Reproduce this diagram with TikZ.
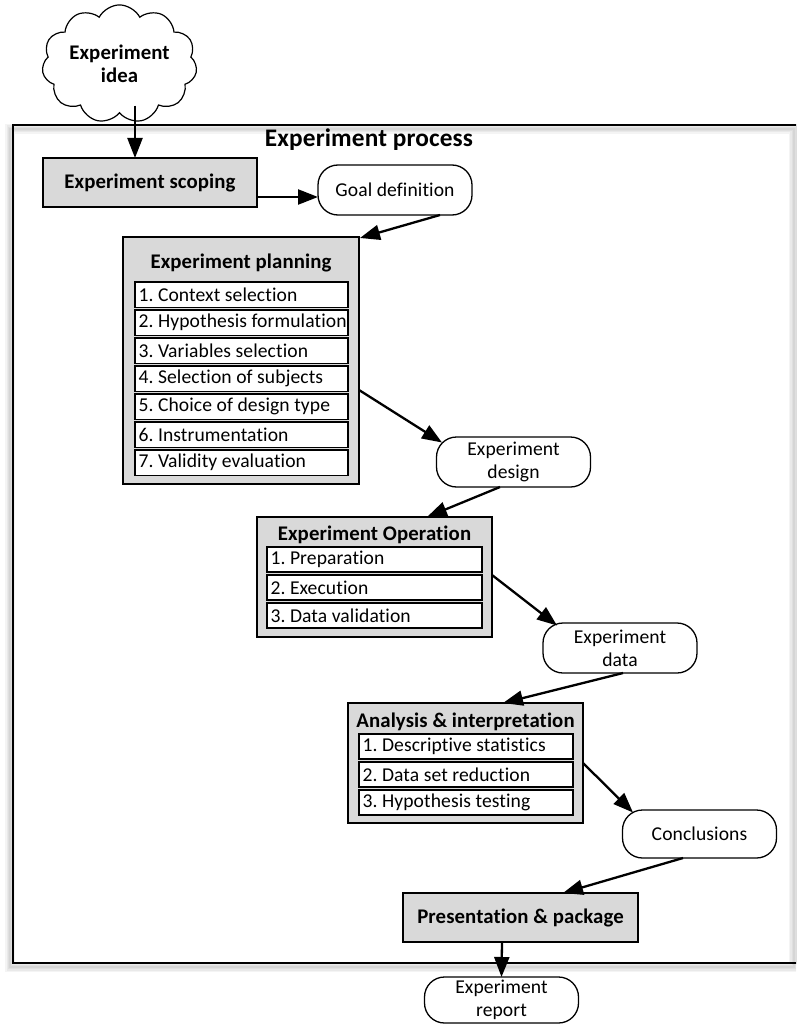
\documentclass[tikz,border=0pt]{standalone}
\usepackage{fontspec}
\setmainfont{Carlito}[Ligatures={NoCommon,NoContextual}, LetterSpace=0.5]
\usetikzlibrary{shapes.symbols,arrows.meta,calc}
\definecolor{boxgray}{RGB}{217,217,217}
% left-aligned text of fixed width inside a list entry
\newcommand{\entrytext}[2]{\makebox[#1][l]{#2}}

\begin{document}
\frenchspacing
\begin{tikzpicture}[x=1pt,y=-1pt,
  every node/.style={inner sep=0pt, outer sep=0pt},
  txt/.style={font=\fontsize{19.6}{23}\selectfont},
  btxt/.style={font=\fontsize{20.8}{23}\selectfont\bfseries},
  ttxt/.style={font=\fontsize{25.3}{28}\selectfont\bfseries},
  graybox/.style={draw, fill=boxgray, line width=1.3pt, anchor=north west},
  itembox/.style={draw, fill=white, line width=1.2pt, anchor=north west,
    inner xsep=3.5pt, minimum height=25.5pt, txt},
  term/.style={draw, fill=white, line width=1.3pt, rounded corners=20pt,
    minimum width=154pt, minimum height=50pt, align=center, txt},
  flow/.style={line width=2.3pt, -{Triangle[length=20pt,width=15pt]}},
  shadowline/.style={line width=#1, black, opacity=0.045}
]
\clip (0,0) rectangle (796,1024);

% soft shadow and outline of the process frame
\foreach \w in {10pt,7pt,4.5pt,2.5pt}
  \draw[shadowline=\w] (10,129) rectangle (793.8,967);
\draw[line width=1.3pt] (13,125) rectangle (796.8,963);
\node[ttxt] (ptitle) at (369,140) {Experiment process};

% start: the idea cloud
\node[cloud, draw, fill=white, cloud puffs=11, cloud puff arc=125, aspect=1.45,
  minimum width=155pt, minimum height=106pt, line width=1.2pt,
  btxt, align=center] (idea) at (119.5,64) {Experiment\\idea};

% scoping
\node[graybox, minimum width=214pt, minimum height=49pt, btxt] (scope) at (43,158) {Experiment scoping};
\node[term] (goal) at (395,190) {Goal definition};

% planning
\node[graybox, minimum width=236pt, minimum height=247pt] (plan) at (123,237) {};
\node[btxt] (plantitle) at (241,263) {Experiment planning};
\node[itembox] (p1) at (135,282) {\entrytext{206pt}{1. Context selection}};
\node[itembox] (p2) at (135,310) {\entrytext{206pt}{2. Hypothesis formulation}};
\node[itembox] (p3) at (135,338) {\entrytext{206pt}{3. Variables selection}};
\node[itembox] (p4) at (135,366) {\entrytext{206pt}{4. Selection of subjects}};
\node[itembox] (p5) at (135,394) {\entrytext{206pt}{5. Choice of design type}};
\node[itembox] (p6) at (135,422) {\entrytext{206pt}{6. Instrumentation}};
\node[itembox] (p7) at (135,450) {\entrytext{206pt}{7. Validity evaluation}};
\node[term] (design) at (513.5,462) {Experiment\\design};

% operation
\node[graybox, minimum width=235pt, minimum height=120pt] (oper) at (257,517) {};
\node[btxt] (opertitle) at (374.5,535) {Experiment Operation};
\node[itembox, minimum height=25pt] (o1) at (267,547) {\entrytext{208pt}{1. Preparation}};
\node[itembox, minimum height=25pt] (o2) at (267,575) {\entrytext{208pt}{2. Execution}};
\node[itembox, minimum height=25pt] (o3) at (267,603) {\entrytext{208pt}{3. Data validation}};
\node[term] (data) at (620,648) {Experiment\\data};

% analysis
\node[graybox, minimum width=235pt, minimum height=120pt] (anal) at (348,703) {};
\node[btxt] (analtitle) at (465.5,722) {Analysis \& interpretation};
\node[itembox, minimum height=25pt] (a1) at (359,734) {\entrytext{207pt}{1. Descriptive statistics}};
\node[itembox, minimum height=25pt] (a2) at (359,762) {\entrytext{207pt}{2. Data set reduction}};
\node[itembox, minimum height=25pt] (a3) at (359,790) {\entrytext{207pt}{3. Hypothesis testing}};
\node[term, minimum height=48pt] (concl) at (699.5,834) {Conclusions};

% presentation and report
\node[graybox, minimum width=235pt, minimum height=49pt, btxt] (pres) at (403,893) {Presentation \& package};
\node[term, minimum height=46pt] (report) at (501.5,1000) {Experiment\\report};

% connectors
\draw[flow] ($(idea.south)+(15.5,-7)$) -- (scope.north -| {$(idea.south)+(15.5,0)$});
\draw[flow] ($(scope.east)+(0,14.5)$) -- ($(goal.west)+(0,7)$);
\draw[flow] ($(goal.south)+(45,0)$) -- ($(plan.north east)+(1,1)$);
\draw[flow] ($(plan.east)+(0,29.5)$) -- ($(design.north west)+(5.5,5.5)$);
\draw[flow] ($(design.south)+(-13.5,0)$) -- ($(oper.north)+(52.5,0)$);
\draw[flow] ($(oper.east)+(0,-2)$) -- ($(data.north west)+(14,2.5)$);
\draw[flow] ($(data.south)+(3,0)$) -- ($(anal.north)+(37.5,0)$);
\draw[flow] (anal.east) -- ($(concl.north west)+(10.5,2.5)$);
\draw[flow] ($(concl.south)+(-16.5,0)$) -- ($(pres.north)+(42.5,0)$);
\draw[flow] ($(pres.south)+(-18.5,0)$) -- (report.north);
\end{tikzpicture}
\end{document}
